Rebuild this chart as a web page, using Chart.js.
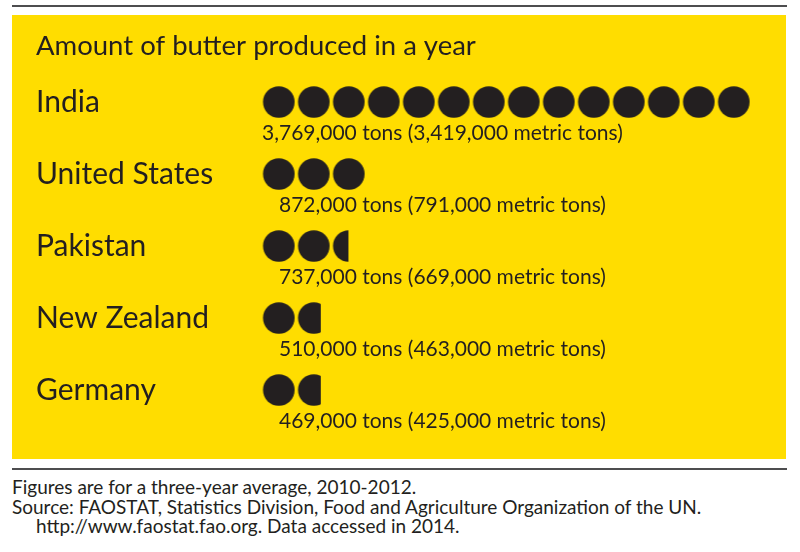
<!DOCTYPE html>
<html>
<head>
<meta charset="utf-8">
<title>Amount of butter produced in a year</title>
<script src="https://cdn.jsdelivr.net/npm/chart.js"></script>
<style>
    body { margin: 0; background: #fff; width: 800px; height: 552px; position: relative; overflow: hidden; font-family: Lato, sans-serif; color: #231f20; }
    .rule { position: absolute; left: 12px; width: 775px; height: 2px; background: #4d4d4f; }
    #panel { position: absolute; left: 12px; top: 15px; width: 774px; height: 444px; background: #ffdd00; }
    #chartBox { position: absolute; left: 0; top: 0; width: 800px; height: 460px; }
    #notes { position: absolute; left: 12px; top: 477px; font-size: 19px; line-height: 19.5px; }
    #notes .indent { padding-left: 24px; }
</style>
</head>
<body>
<div class="rule" style="top:5px"></div>
<div id="panel"></div>
<div id="chartBox"><canvas id="butterChart"></canvas></div>
<div class="rule" style="top:468px"></div>
<div id="notes">
    <div>Figures are for a three-year average, 2010-2012.</div>
    <div>Source: FAOSTAT, Statistics Division, Food and Agriculture Organization of the UN.</div>
    <div class="indent">http://www.faostat.fao.org. Data accessed in 2014.</div>
</div>

<script>
// -------------------------    Data    -------------------------

var countries = ['India', 'United States', 'Pakistan', 'New Zealand', 'Germany'];

// butter circles shown for each country (partial circles)
var circles = [14, 3, 2.47, 1.68, 1.68];

var tons = [3769000, 872000, 737000, 510000, 469000];
var metricTons = [3419000, 791000, 669000, 463000, 425000];


// -------------------------    Style    -------------------------

var INK = '#231f20';
var DOT_D = 31.6;          // circle diameter in px
var labelIndent = [0, 17, 17, 17, 17];


// -------------------------    helperfunctions    -------------------------

function fmt(n) {
    return n.toLocaleString('en-US');
}

// circles come from a repeating pattern laid over each bar,
// so a bar ending mid-tile cuts the last circle
var dotPattern = null;
function getDotPattern(chart) {
    const area = chart.chartArea;
    const x = chart.scales.x;
    if (!area || !x) return INK;
    if (dotPattern) return dotPattern;

    const pitch = x.getPixelForValue(1) - x.getPixelForValue(0);
    const tileW = Math.ceil(pitch);
    const tileH = Math.round(area.height / countries.length);
    const gap = tileW - DOT_D;

    // gap sits at the tile's left edge, so a bar ending on a whole unit
    // never shows the rim of the next circle
    const tile = document.createElement('canvas');
    tile.width = tileW;
    tile.height = tileH;
    const tctx = tile.getContext('2d');
    tctx.fillStyle = INK;
    tctx.beginPath();
    tctx.arc(gap + DOT_D / 2, tileH / 2, DOT_D / 2, 0, Math.PI * 2);
    tctx.fill();

    // stretch the tile so one tile == one unit on the x scale,
    // nudged 1px right to keep the anti-aliased rim off whole-unit bar ends
    const sx = pitch / tileW;
    dotPattern = chart.ctx.createPattern(tile, 'repeat');
    dotPattern.setTransform(new DOMMatrix([sx, 0, 0, 1, area.left - gap * sx + 1, area.top]));
    return dotPattern;
}

// tons text under each row of circles
var valueLabels = {
    id: 'valueLabels',
    afterDatasetsDraw(chart) {
        const ctx = chart.ctx;
        const meta = chart.getDatasetMeta(0);
        ctx.save();
        ctx.font = '21px Lato';
        ctx.fillStyle = INK;
        ctx.textBaseline = 'alphabetic';
        meta.data.forEach((bar, i) => {
            const text = fmt(tons[i]) + ' tons (' + fmt(metricTons[i]) + ' metric tons)';
            ctx.fillText(text, chart.chartArea.left + labelIndent[i], bar.y + 38);
        });
        ctx.restore();
    }
};


// -------------------------    Chart Setup    -------------------------

var ctx = document.getElementById('butterChart').getContext('2d');
var butterChart = new Chart(ctx, {
    type: 'bar',
    data: {
        labels: countries,
        datasets: [{
            label: 'Butter circles',
            data: circles,
            backgroundColor: (c) => getDotPattern(c.chart),
            borderWidth: 0,
            inflateAmount: 0,
            barThickness: 32,
        }]
    },
    options: {
        indexAxis: 'y',
        responsive: true,
        maintainAspectRatio: false,
        animation: false,
        layout: {
            padding: { left: 36, right: 13, top: 0, bottom: 34 }
        },
        scales: {
            x: {
                display: false,
                min: 0,
                max: 15,
            },
            y: {
                afterFit: (scale) => { scale.width = 226; },
                grid: { display: false },
                border: { display: false },
                ticks: {
                    crossAlign: 'far',
                    color: INK,
                    font: { family: 'Lato', size: 30 },
                }
            }
        },
        plugins: {
            legend: { display: false },
            tooltip: { enabled: false },
            title: {
                display: true,
                text: 'Amount of butter produced in a year',
                align: 'start',
                color: INK,
                font: { family: 'Lato', size: 27.5, weight: 'normal' },
                padding: { top: 30, bottom: 3 },
            }
        }
    },
    plugins: [valueLabels]
});
</script>
</body>
</html>
